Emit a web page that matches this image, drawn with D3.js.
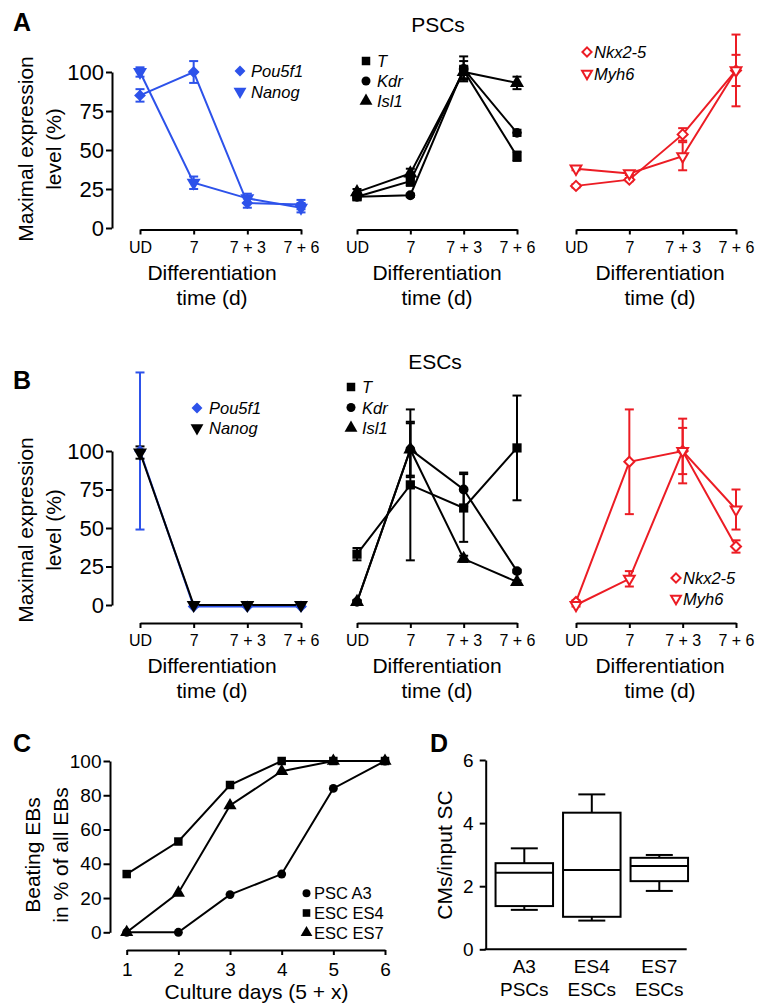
<!DOCTYPE html>
<html><head><meta charset="utf-8">
<script src="https://cdn.jsdelivr.net/npm/d3@7"></script>
<style>body{margin:0;background:#fff;} svg text{font-family:"Liberation Sans",Arial,Helvetica,sans-serif;}</style>
</head><body><svg id="c" width="774" height="1008"></svg>
<script>
// ---------- DATA ----------
const timeLabels = ["UD", "7", "7 + 3", "7 + 6"];
const yTicksAB = [0, 25, 50, 75, 100];
// Panel A (PSCs)
const aPou5f1 = [85, 100, 16, 15], aPou5f1Err = [4, 7, 3, 3];
const aNanog = [100, 29, 19, 13], aNanogErr = [3, 4, 3, 3];
const aT = [20, 30, 101, 46], aTErr = [2, 3, 6, 3];
const aKdr = [20, 21, 102, 61], aKdrErr = [1, 1, 8, 2];
const aIsl1 = [23, 35, 100, 93], aIsl1Err = [2, 3, 4, 4];
const aNkx25 = [27, 31, 60, 101], aNkx25Err = [1, 1, 4, 23];
const aMyh6 = [38, 35, 46, 101], aMyh6Err = [1, 1, 9, 10];
// Panel B (ESCs)
const bPou5f1 = [100, -1, -1, -1], bPou5f1Err = [51, 0, 0, 0];
const bNanog = [99, 0, 0, 0], bNanogErr = [4, 1, 1, 1];
const bT = [33, 78, 63, 102], bTErr = [4, 49, 22, 34];
const bKdr = [2, 101, 75, 22], bKdrErr = [1, 18, 11, 1];
const bIsl1 = [2, 101, 30, 15], bIsl1Err = [1, 17, 2, 1];
const bNkx25 = [2, 93, 100, 38], bNkx25Err = [1, 34, 21, 4];
const bMyh6 = [0, 17, 100, 62], bMyh6Err = [1, 5, 15, 13];
// Panel C
const cDays = [1, 2, 3, 4, 5, 6];
const yTicksC = [0, 20, 40, 60, 80, 100];
const cPSCA3 = [0, 0, 22, 34, 84, 100];
const cESCES4 = [34, 53, 86, 100, 100, 100];
const cESCES7 = [0, 23, 74, 94, 100, 100];
// Panel D
const dLabel1 = ["A3", "ES4", "ES7"];
const dLabel2 = ["PSCs", "ESCs", "ESCs"];
const yTicksD = [0, 2, 4, 6];
const dMin = [1.25, 0.91, 1.85];
const dQ1 = [1.37, 1.03, 2.16];
const dMedian = [2.43, 2.51, 2.64];
const dQ3 = [2.73, 4.33, 2.90];
const dMax = [3.20, 4.91, 2.99];

// ---------- STYLE ----------
const BLUE = "#2d52ea", RED = "#ec1c24", BLACK = "#000";
const svg = d3.select("#c");
const SIZE = { diamond: 70, square: 85, circle: 75, tri: 85, triDown: 85 };

function markerPath(shape, size) {
  if (shape === "diamond") { const r = Math.sqrt(size / 2); return `M0,${-r}L${r},0L0,${r}L${-r},0Z`; }
  const t = { square: d3.symbolSquare, circle: d3.symbolCircle, tri: d3.symbolTriangle, triDown: d3.symbolTriangle }[shape];
  return d3.symbol(t, size)();
}
function drawMarker(g, shape, cx, cy, color, open, size) {
  g.append("path").attr("d", markerPath(shape, size))
    .attr("transform", `translate(${cx},${cy})` + (shape === "triDown" ? " rotate(180)" : ""))
    .attr("fill", open ? "#fff" : color)
    .attr("stroke", open ? color : "none")
    .attr("stroke-width", open ? 2 : 0);
}
function styleAxis(g, fs) {
  g.attr("font-family", null).attr("font-size", fs);
  g.selectAll("path,line").attr("stroke", "#000").attr("stroke-width", 2);
  g.selectAll("text").attr("fill", "#000");
}

// ---------- PANELS A & B ----------
const subX = [[140, 301], [357, 517], [576, 736]];
const subTitleX = [212, 437, 660];
const rows = [
  { y0: 228, y100: 72, xAxisY: 229.5, title: "PSCs", titleX: 438, titleY: 32, label: "A", labelY: 31, yTitleCY: 149,
    subs: [
      { series: [{ v: aPou5f1, e: aPou5f1Err, c: BLUE, s: "diamond" }, { v: aNanog, e: aNanogErr, c: BLUE, s: "triDown" }],
        legend: { x: 240, y: 71, dy: 20.5, gap: 11, items: [["Pou5f1", "diamond", BLUE, false], ["Nanog", "triDown", BLUE, false]] } },
      { series: [{ v: aT, e: aTErr, c: BLACK, s: "square" }, { v: aKdr, e: aKdrErr, c: BLACK, s: "circle" }, { v: aIsl1, e: aIsl1Err, c: BLACK, s: "tri" }],
        legend: { x: 366, y: 61, dy: 20, gap: 11, items: [["T", "square", BLACK, false], ["Kdr", "circle", BLACK, false], ["Isl1", "tri", BLACK, false]] } },
      { series: [{ v: aNkx25, e: aNkx25Err, c: RED, s: "diamond", open: true }, { v: aMyh6, e: aMyh6Err, c: RED, s: "triDown", open: true }],
        legend: { x: 587, y: 52, dy: 21.5, gap: 7, items: [["Nkx2-5", "diamond", RED, true], ["Myh6", "triDown", RED, true]] } }
    ] },
  { y0: 605, y100: 451, xAxisY: 623, title: "ESCs", titleX: 435, titleY: 369, label: "B", labelY: 389, yTitleCY: 530,
    subs: [
      { series: [{ v: bPou5f1, e: bPou5f1Err, c: BLUE, s: "diamond" }, { v: bNanog, e: bNanogErr, c: BLACK, s: "triDown" }],
        legend: { x: 197, y: 408, dy: 20, gap: 12, items: [["Pou5f1", "diamond", BLUE, false], ["Nanog", "triDown", BLACK, false]] } },
      { series: [{ v: bT, e: bTErr, c: BLACK, s: "square" }, { v: bKdr, e: bKdrErr, c: BLACK, s: "circle" }, { v: bIsl1, e: bIsl1Err, c: BLACK, s: "tri" }],
        legend: { x: 351, y: 387, dy: 20.5, gap: 11, items: [["T", "square", BLACK, false], ["Kdr", "circle", BLACK, false], ["Isl1", "tri", BLACK, false]] } },
      { series: [{ v: bNkx25, e: bNkx25Err, c: RED, s: "diamond", open: true }, { v: bMyh6, e: bMyh6Err, c: RED, s: "triDown", open: true }],
        legend: { x: 676, y: 578, dy: 20.5, gap: 7, items: [["Nkx2-5", "diamond", RED, true], ["Myh6", "triDown", RED, true]] } }
    ] }
];

rows.forEach(row => {
  const y = d3.scaleLinear().domain([0, 100]).range([row.y0, row.y100]);
  svg.append("text").attr("x", 13).attr("y", row.labelY).attr("font-size", 25).attr("font-weight", "bold").text(row.label);
  svg.append("text").attr("x", row.titleX).attr("y", row.titleY).attr("text-anchor", "middle").attr("font-size", 21).text(row.title);
  const ya = svg.append("g").attr("transform", `translate(112,0)`)
    .call(d3.axisLeft(y).tickValues(yTicksAB).tickSize(6).tickSizeOuter(0).tickPadding(2));
  styleAxis(ya, 22);
  const yt = svg.append("text").attr("transform", `translate(0,${row.yTitleCY}) rotate(-90)`).attr("text-anchor", "middle").attr("font-size", 21);
  yt.append("tspan").attr("x", 0).attr("y", 33).text("Maximal expression");
  yt.append("tspan").attr("x", 0).attr("y", 61).text("level (%)");

  row.subs.forEach((sub, i) => {
    const x = d3.scalePoint().domain(timeLabels).range(subX[i]);
    const xa = svg.append("g").attr("transform", `translate(0,${row.xAxisY})`)
      .call(d3.axisBottom(x).tickSize(5).tickSizeOuter(0).tickPadding(7));
    styleAxis(xa, 16);
    const tt = svg.append("text").attr("text-anchor", "middle").attr("font-size", 21);
    tt.append("tspan").attr("x", subTitleX[i]).attr("y", row.xAxisY + 50).text("Differentiation");
    tt.append("tspan").attr("x", subTitleX[i]).attr("y", row.xAxisY + 75).text("time (d)");

    const g = svg.append("g");
    sub.series.forEach(s => {
      const pts = timeLabels.map((t, k) => ({ t, v: s.v[k], e: s.e[k] }));
      pts.forEach(p => {
        if (p.e <= 0) return;
        const cx = x(p.t);
        g.append("line").attr("x1", cx).attr("x2", cx).attr("y1", y(p.v - p.e)).attr("y2", y(p.v + p.e)).attr("stroke", s.c).attr("stroke-width", 2);
        [p.v - p.e, p.v + p.e].forEach(ev => g.append("line").attr("x1", cx - 4.5).attr("x2", cx + 4.5).attr("y1", y(ev)).attr("y2", y(ev)).attr("stroke", s.c).attr("stroke-width", 2));
      });
      g.append("path").datum(pts).attr("fill", "none").attr("stroke", s.c).attr("stroke-width", 2)
        .attr("d", d3.line().x(p => x(p.t)).y(p => y(p.v)));
    });
    sub.series.forEach(s => {
      timeLabels.forEach((t, k) => drawMarker(g, s.s, x(t), y(s.v[k]), s.c, s.open, s.open ? 50 : SIZE[s.s]));
    });
    const L = sub.legend;
    L.items.forEach((it, k) => {
      const ly = L.y + k * L.dy;
      drawMarker(svg, it[1], L.x, ly, it[2], it[3], it[3] ? 42 : SIZE[it[1]] * 0.85);
      svg.append("text").attr("x", L.x + L.gap).attr("y", ly + 6).attr("font-size", 16.5).attr("font-style", "italic").text(it[0]);
    });
  });
});

// ---------- PANEL C ----------
{
  const x = d3.scaleLinear().domain([1, 6]).range([126.7, 385]);
  const y = d3.scaleLinear().domain([0, 100]).range([932.3, 761]);
  svg.append("text").attr("x", 13).attr("y", 752).attr("font-size", 25).attr("font-weight", "bold").text("C");
  const xa = svg.append("g").attr("transform", "translate(0,950)")
    .call(d3.axisBottom(x).tickValues(cDays).tickFormat(d3.format("d")).tickSize(5).tickSizeOuter(0).tickPadding(8));
  styleAxis(xa, 19);
  const ya = svg.append("g").attr("transform", "translate(110,0)")
    .call(d3.axisLeft(y).tickValues(yTicksC).tickFormat(d3.format("d")).tickSize(6.5).tickSizeOuter(0).tickPadding(2));
  styleAxis(ya, 19);
  svg.append("text").attr("x", 256.5).attr("y", 999).attr("text-anchor", "middle").attr("font-size", 21).text("Culture days (5 + x)");
  const yt = svg.append("text").attr("transform", "translate(0,855) rotate(-90)").attr("text-anchor", "middle").attr("font-size", 21);
  yt.append("tspan").attr("x", 0).attr("y", 40).text("Beating EBs");
  yt.append("tspan").attr("x", 0).attr("y", 68).text("in % of all EBs");
  const series = [[cPSCA3, "circle", "PSC A3", 62], [cESCES4, "square", "ESC ES4", 72], [cESCES7, "tri", "ESC ES7", 75]];
  series.forEach(s => {
    svg.append("path").datum(cDays.map((d, k) => [d, s[0][k]])).attr("fill", "none").attr("stroke", "#000").attr("stroke-width", 2)
      .attr("d", d3.line().x(p => x(p[0])).y(p => y(p[1])));
  });
  series.forEach(s => cDays.forEach((d, k) => drawMarker(svg, s[1], x(d), y(s[0][k]), "#000", false, s[3])));
  series.forEach((s, k) => {
    const ly = 893.3 + k * 19.7;
    drawMarker(svg, s[1], 306.5, ly, "#000", false, s[3] * 0.8);
    svg.append("text").attr("x", 314).attr("y", ly + 6).attr("font-size", 16.5).text(s[2]);
  });
}

// ---------- PANEL D ----------
{
  const x = d3.scalePoint().domain(dLabel1).range([524.3, 659.3]);
  const y = d3.scaleLinear().domain([0, 6]).range([949.3, 760]);
  svg.append("text").attr("x", 430).attr("y", 752).attr("font-size", 25).attr("font-weight", "bold").text("D");
  const ya = svg.append("g").attr("transform", "translate(485.7,0)")
    .call(d3.axisLeft(y).tickValues(yTicksD).tickFormat(d3.format("d")).tickSize(6).tickSizeOuter(0).tickPadding(6));
  styleAxis(ya, 19);
  svg.append("line").attr("x1", 484.7).attr("x2", 686.7).attr("y1", y(0)).attr("y2", y(0)).attr("stroke", "#000").attr("stroke-width", 2);
  svg.append("text").attr("transform", "translate(452,855) rotate(-90)").attr("text-anchor", "middle").attr("font-size", 21).text("CMs/input SC");
  const bw = 57.5, cw = 27;
  dLabel1.forEach((c, i) => {
    const cx = x(c);
    const g = svg.append("g").attr("stroke", "#000").attr("stroke-width", 2).attr("fill", "none");
    g.append("line").attr("x1", cx).attr("x2", cx).attr("y1", y(dQ3[i])).attr("y2", y(dMax[i]));
    g.append("line").attr("x1", cx).attr("x2", cx).attr("y1", y(dQ1[i])).attr("y2", y(dMin[i]));
    g.append("line").attr("x1", cx - cw / 2).attr("x2", cx + cw / 2).attr("y1", y(dMax[i])).attr("y2", y(dMax[i]));
    g.append("line").attr("x1", cx - cw / 2).attr("x2", cx + cw / 2).attr("y1", y(dMin[i])).attr("y2", y(dMin[i]));
    g.append("rect").attr("x", cx - bw / 2).attr("width", bw).attr("y", y(dQ3[i])).attr("height", y(dQ1[i]) - y(dQ3[i])).attr("fill", "#fff");
    g.append("line").attr("x1", cx - bw / 2).attr("x2", cx + bw / 2).attr("y1", y(dMedian[i])).attr("y2", y(dMedian[i]));
    const t = svg.append("text").attr("text-anchor", "middle").attr("font-size", 19);
    t.append("tspan").attr("x", cx).attr("y", 973).text(c);
    t.append("tspan").attr("x", cx).attr("y", 995.5).text(dLabel2[i]);
  });
}
</script></body></html>
